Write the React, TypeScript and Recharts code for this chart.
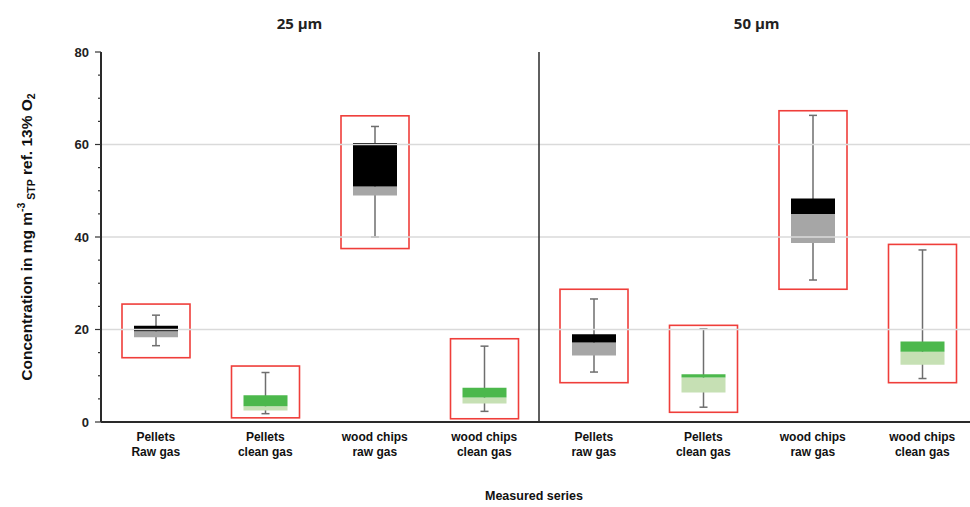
import React from 'react';
import { ComposedChart, Bar, XAxis, YAxis, ReferenceLine, Cell, Label } from 'recharts';

// ---- data ----
const categories = [
  'Pellets\nRaw gas',
  'Pellets\nclean gas',
  'wood chips\nraw gas',
  'wood chips\nclean gas',
  'Pellets\nraw gas',
  'Pellets\nclean gas',
  'wood chips\nraw gas',
  'wood chips\nclean gas',
];
const gasType = ['raw', 'clean', 'raw', 'clean', 'raw', 'clean', 'raw', 'clean'];
const whiskerMin = [16.5, 1.8, 40.0, 2.3, 10.8, 3.2, 30.7, 9.4];
const boxLow = [18.3, 2.5, 49.0, 4.0, 14.4, 6.4, 38.7, 12.4];
const boxMid = [19.6, 3.4, 50.9, 5.3, 17.2, 9.6, 45.0, 15.2];
const boxHigh = [20.8, 5.8, 60.3, 7.4, 19.0, 10.3, 48.3, 17.4];
const whiskerMax = [23.1, 10.7, 63.9, 16.4, 26.6, 20.1, 66.3, 37.2];
const frameLow = [13.9, 0.9, 37.5, 0.7, 8.5, 2.1, 28.7, 8.5];
const frameHigh = [25.5, 12.1, 66.2, 18.0, 28.7, 20.9, 67.3, 38.4];

const yTicks = [0, 5, 10, 15, 20, 25, 30, 35, 40, 45, 50, 55, 60, 65, 70, 75, 80];
const yLabelTicks = [0, 20, 40, 60, 80];
const gridValues = [20, 40, 60];
const groupTitles = ['25 µm', '50 µm'];
const dividerIndex = 4;
const xTitle = 'Measured series';

// ---- styles ----
const colors: Record<string, { upper: string; lower: string }> = {
  raw: { upper: '#000000', lower: '#a6a6a6' },
  clean: { upper: '#4cb84c', lower: '#c6e0b4' },
};
const narrowFont = "'Liberation Sans Narrow', 'Arial Narrow', 'Liberation Sans', Arial, sans-serif";
const sansFont = "'Liberation Sans', Arial, sans-serif";

const ids = categories.map((_, i) => `s${i}`);
const data = categories.map((name, i) => ({
  key: ids[i],
  name,
  gas: gasType[i],
  frame: [frameLow[i], frameHigh[i]],
  whisker: [whiskerMin[i], whiskerMax[i]],
  lower: [boxLow[i], boxMid[i]],
  upper: [boxMid[i], boxHigh[i]],
}));

const FrameShape = (p: any) => {
  const { x, y, width, height } = p;
  const top = Math.min(y, y + height);
  const h = Math.abs(height);
  return <rect x={x} y={top} width={width} height={h} fill="none" stroke="#ef3e3a" strokeWidth={1.6} />;
};

const WhiskerShape = (p: any) => {
  const { x, y, width, height } = p;
  const top = Math.min(y, y + height);
  const bottom = Math.max(y, y + height);
  const cx = x + width / 2;
  return (
    <g stroke="#6e6e6e" strokeWidth={1.5}>
      <line x1={cx} x2={cx} y1={top} y2={bottom} />
      <line x1={x} x2={x + width} y1={top} y2={top} />
      <line x1={x} x2={x + width} y1={bottom} y2={bottom} />
    </g>
  );
};

const XTick = (p: any) => {
  const { x, y, payload } = p;
  const idx = ids.indexOf(payload.value);
  if (idx < 0) return null;
  const [l1, l2] = categories[idx].split('\n');
  const common = {
    textAnchor: 'middle' as const,
    fontFamily: narrowFont,
    fontWeight: 700,
    fontSize: 12,
    fill: '#111',
  };
  return (
    <g>
      <text x={x} y={y + 19} {...common}>{l1}</text>
      <text x={x} y={y + 34} {...common}>{l2}</text>
    </g>
  );
};

const YTick = (p: any) => {
  const { x, y, payload } = p;
  const major = yLabelTicks.includes(payload.value);
  return (
    <g>
      <line x1={x - (major ? 6 : 3)} x2={x} y1={y} y2={y} stroke="#333" strokeWidth={1.2} />
      {major && (
        <text x={x - 12} y={y} dy={4.5} textAnchor="end" fontFamily={sansFont} fontWeight={700} fontSize={13} fill="#222">
          {payload.value}
        </text>
      )}
    </g>
  );
};

const YTitle = (p: any) => {
  const vb = p.viewBox || { x: 0, y: 52, width: 101, height: 370 };
  const cx = vb.x + 28;
  const cy = vb.y + vb.height / 2;
  return (
    <text
      x={cx}
      y={cy}
      transform={`rotate(-90 ${cx} ${cy})`}
      textAnchor="middle"
      dominantBaseline="middle"
      fontFamily={sansFont}
      fontWeight={700}
      fontSize={15.5}
      fill="#111"
    >
      <tspan>Concentration in mg m</tspan>
      <tspan fontSize={10.5} dy={-6}>-3</tspan>
      <tspan fontSize={10.5} dy={10}> STP</tspan>
      <tspan dy={-4}> ref. 13% O</tspan>
      <tspan fontSize={10.5} dy={4}>2</tspan>
    </text>
  );
};

const XTitle = (p: any) => {
  const vb = p.viewBox || { x: 101, y: 422, width: 876, height: 85 };
  return (
    <text
      x={vb.x + vb.width / 2 - 5}
      y={vb.y + 78}
      textAnchor="middle"
      fontFamily={narrowFont}
      fontWeight={700}
      fontSize={12.5}
      fill="#111"
    >
      {xTitle}
    </text>
  );
};

export default function App() {
  return (
    <div style={{ position: 'absolute', left: 0, top: 0, width: 970, height: 507, overflow: 'hidden', background: '#fff' }}>
      <ComposedChart width={980} height={507} data={data} margin={{ top: 52, right: 3, bottom: 0, left: 0 }}>
        <XAxis xAxisId="f" dataKey="key" hide height={0} orientation="top" />
        <XAxis xAxisId="w" dataKey="key" hide height={0} orientation="top" />
        <XAxis xAxisId="b1" dataKey="key" hide height={0} orientation="top" />
        <XAxis xAxisId="b2" dataKey="key" hide height={0} orientation="top" />
        <XAxis
          xAxisId="main"
          dataKey="key"
          height={85}
          interval={0}
          tickLine={false}
          tickSize={0}
          tickMargin={0}
          tick={<XTick />}
          axisLine={{ stroke: '#2a2a2a', strokeWidth: 2 }}
        >
          <Label content={<XTitle />} />
        </XAxis>
        <YAxis
          width={101}
          domain={[0, 80]}
          ticks={yTicks}
          interval={0}
          tickLine={false}
          tickSize={0}
          tickMargin={0}
          tick={<YTick />}
          axisLine={{ stroke: '#2a2a2a', strokeWidth: 2 }}
        >
          <Label content={<YTitle />} />
        </YAxis>
        {gridValues.map((v) => (
          <ReferenceLine key={v} xAxisId="main" y={v} stroke="#dadada" strokeWidth={1.3} />
        ))}
        <Bar xAxisId="f" dataKey="frame" barSize={68} isAnimationActive={false} shape={<FrameShape />} />
        <Bar xAxisId="w" dataKey="whisker" barSize={8} isAnimationActive={false} shape={<WhiskerShape />} />
        <Bar xAxisId="b1" dataKey="lower" barSize={44} isAnimationActive={false}>
          {data.map((d) => (
            <Cell key={d.key} fill={colors[d.gas].lower} />
          ))}
        </Bar>
        <Bar xAxisId="b2" dataKey="upper" barSize={44} isAnimationActive={false}>
          {data.map((d) => (
            <Cell key={d.key} fill={colors[d.gas].upper} />
          ))}
        </Bar>
        <ReferenceLine xAxisId="main" x={ids[dividerIndex]} position="start" stroke="#2a2a2a" strokeWidth={1.5} />
      </ComposedChart>
      {groupTitles.map((t, i) => (
        <div
          key={t}
          style={{
            position: 'absolute',
            left: (i === 0 ? 299.5 : 756.7) - 60,
            top: 12,
            width: 120,
            textAlign: 'center',
            fontFamily: "'Open Sans', sans-serif",
            fontWeight: 700,
            fontSize: 15,
            lineHeight: '22px',
            color: '#222',
          }}
        >
          {t}
        </div>
      ))}
    </div>
  );
}
